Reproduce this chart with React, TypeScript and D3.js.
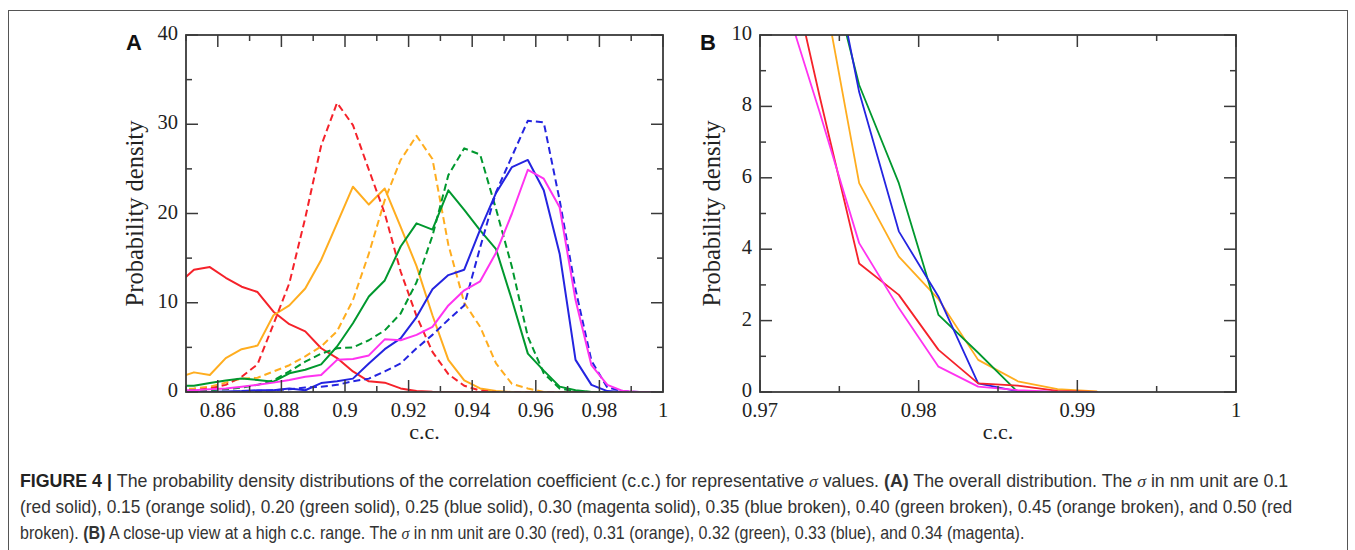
import * as d3 from "d3";
import { useLayoutEffect, useRef, useState } from "react";

// panel A: bin centres (c.c.) and the nine sigma curves
const ccA = [
  0.8475, 0.8525, 0.8575, 0.8625, 0.8675, 0.8725, 0.8775, 0.8825, 0.8875, 0.8925,
  0.8975, 0.9025, 0.9075, 0.9125, 0.9175, 0.9225, 0.9275, 0.9325, 0.9375, 0.9425,
  0.9475, 0.9525, 0.9575, 0.9625, 0.9675, 0.9725, 0.9775, 0.9825, 0.9875, 0.9925,
  0.9975,
];
const sig010 = [12.1, 13.7, 14.0, 12.8, 11.8, 11.2, 9.0, 7.6, 6.8, 4.9, 3.8, 2.3, 1.2, 1.05, 0.4, 0.1, 0.02, 0, 0, 0, 0, 0, 0, 0, 0, 0, 0, 0, 0, 0, 0];
const sig015 = [1.6, 2.2, 1.9, 3.8, 4.8, 5.2, 8.6, 9.7, 11.6, 14.8, 18.9, 23.0, 21.0, 22.8, 18.5, 14.1, 8.6, 3.6, 1.3, 0.4, 0.1, 0, 0, 0, 0, 0, 0, 0, 0, 0, 0];
const sig020 = [0.7, 0.7, 1.0, 1.3, 1.5, 1.35, 1.15, 2.1, 2.5, 3.1, 5.1, 7.7, 10.7, 12.5, 16.3, 18.9, 18.2, 22.6, 20.4, 18.1, 16.0, 10.3, 4.3, 2.4, 0.6, 0.2, 0, 0, 0, 0, 0];
const sig025 = [0, 0, 0, 0.05, 0.1, 0.2, 0.2, 0.4, 0.2, 1.0, 1.2, 1.5, 3.2, 4.8, 6.0, 8.4, 11.5, 13.1, 13.7, 18.2, 22.3, 25.2, 26.0, 22.6, 15.5, 3.6, 0.8, 0.1, 0, 0, 0];
const sig030 = [0.2, 0.2, 0.3, 0.4, 0.6, 0.8, 1.05, 1.35, 1.7, 1.9, 3.6, 3.7, 4.1, 5.9, 5.8, 6.4, 7.3, 9.7, 11.4, 12.4, 15.6, 20.0, 24.9, 23.9, 20.7, 10.3, 3.0, 0.8, 0.1, 0, 0];
const sig035 = [0, 0, 0, 0, 0.05, 0.1, 0.2, 0.3, 0.5, 0.6, 0.8, 1.2, 1.5, 2.3, 3.2, 4.9, 6.4, 8.1, 9.7, 16.2, 22.4, 26.4, 30.4, 30.2, 21.5, 11.5, 3.5, 0.5, 0.1, 0, 0];
const sig040 = [0.1, 0.2, 0.2, 0.3, 0.5, 0.8, 1.3, 2.3, 3.4, 4.3, 4.9, 5.0, 5.8, 6.9, 8.8, 12.3, 17.5, 24.3, 27.3, 26.6, 20.5, 14.0, 6.2, 2.1, 0.4, 0.05, 0, 0, 0, 0, 0];
const sig045 = [0.3, 0.4, 0.6, 1.05, 1.5, 1.6, 2.3, 3.0, 4.0, 5.1, 6.8, 10.3, 15.5, 21.5, 26.0, 28.7, 26.1, 16.5, 10.0, 7.3, 3.2, 0.9, 0.4, 0, 0, 0, 0, 0, 0, 0, 0];
const sig050 = [0.1, 0.2, 0.4, 0.8, 1.7, 3.1, 7.6, 12.2, 19.5, 27.6, 32.4, 29.9, 24.9, 20.0, 13.5, 8.5, 4.5, 2.0, 0.7, 0.15, 0, 0, 0, 0, 0, 0, 0, 0, 0, 0, 0];

// panel B: close-up, finer sigma steps
const ccB = [0.97125, 0.97375, 0.97625, 0.97875, 0.98125, 0.98375, 0.98625, 0.98875, 0.99125];
const sig30 = [13.2, 8.3, 3.6, 2.72, 1.18, 0.24, 0.18, 0.03, 0];
const sig31 = [18.0, 11.9, 5.85, 3.79, 2.6, 0.9, 0.3, 0.08, 0.02];
const sig32 = [17.5, 13.0, 8.6, 5.85, 2.16, 1.1, 0, 0, 0];
const sig33 = [20.0, 14.0, 8.4, 4.5, 2.67, 0.24, 0.02, 0, 0];
const sig34 = [11.4, 7.85, 4.17, 2.35, 0.71, 0.15, 0.05, 0, 0];

const ticksAx = [0.86, 0.88, 0.9, 0.92, 0.94, 0.96, 0.98, 1];
const ticksAxMinor = [0.85, 0.87, 0.89, 0.91, 0.93, 0.95, 0.97, 0.99];
const ticksAy = [0, 10, 20, 30, 40];
const ticksAyMinor = [5, 15, 25, 35];
const ticksBx = [0.97, 0.98, 0.99, 1];
const ticksBxMinor = [0.975, 0.985, 0.995];
const ticksBy = [0, 2, 4, 6, 8, 10];
const ticksByMinor = [1, 3, 5, 7, 9];

const RED = "#f5222a";
const ORANGE = "#ffad1f";
const GREEN = "#00982e";
const BLUE = "#2424e0";
const MAGENTA = "#ff33f0";

const seriesA = [
  { vals: sig010, color: RED, dash: false },
  { vals: sig015, color: ORANGE, dash: false },
  { vals: sig045, color: ORANGE, dash: true },
  { vals: sig050, color: RED, dash: true },
  { vals: sig040, color: GREEN, dash: true },
  { vals: sig020, color: GREEN, dash: false },
  { vals: sig035, color: BLUE, dash: true },
  { vals: sig025, color: BLUE, dash: false },
  { vals: sig030, color: MAGENTA, dash: false },
];
const seriesB = [
  { vals: sig31, color: ORANGE },
  { vals: sig32, color: GREEN },
  { vals: sig33, color: BLUE },
  { vals: sig30, color: RED },
  { vals: sig34, color: MAGENTA },
];

// caption line targets: baseline y, wanted width
const captionLines = [
  { y: 487, w: 1270 },
  { y: 513, w: 1273 },
  { y: 539, w: 1005 },
];

const serif = "'Liberation Serif', 'Times New Roman', serif";
const sans = "'Liberation Sans', Arial, sans-serif";
const AXIS = "#3a3a3a";

type PanelProps = {
  id: string;
  letter: string;
  x0: number;
  x1: number;
  y0: number;
  y1: number;
  xDomain: [number, number];
  yDomain: [number, number];
  xMajor: number[];
  xMinor: number[];
  yMajor: number[];
  yMinor: number[];
  cc: number[];
  series: { vals: number[]; color: string; dash?: boolean }[];
  width: number;
  titleOffset: number;
};

function Panel(p: PanelProps) {
  const x = d3.scaleLinear().domain(p.xDomain).range([p.x0, p.x1]);
  const y = d3.scaleLinear().domain(p.yDomain).range([p.y1, p.y0]);
  const line = d3
    .line<number>()
    .x((d, i) => x(p.cc[i]))
    .y((d) => y(d));
  const big = 12;
  const small = 6;
  return (
    <g>
      <defs>
        <clipPath id={`clip-${p.id}`}>
          <rect x={p.x0} y={p.y0} width={p.x1 - p.x0} height={p.y1 - p.y0} />
        </clipPath>
      </defs>
      <g clipPath={`url(#clip-${p.id})`} fill="none">
        {p.series.map((s, i) => (
          <path
            key={i}
            d={line(s.vals) ?? ""}
            stroke={s.color}
            strokeWidth={p.width}
            strokeDasharray={s.dash ? "7 4" : undefined}
            strokeLinejoin="round"
          />
        ))}
      </g>
      <rect
        x={p.x0}
        y={p.y0}
        width={p.x1 - p.x0}
        height={p.y1 - p.y0}
        fill="none"
        stroke={AXIS}
        strokeWidth={1.8}
      />
      <g stroke={AXIS} strokeWidth={1.5}>
        {p.xMajor.map((t) => (
          <g key={`xm${t}`}>
            <line x1={x(t)} x2={x(t)} y1={p.y1} y2={p.y1 - big} />
            <line x1={x(t)} x2={x(t)} y1={p.y0} y2={p.y0 + big} />
          </g>
        ))}
        {p.xMinor.map((t) => (
          <g key={`xn${t}`}>
            <line x1={x(t)} x2={x(t)} y1={p.y1} y2={p.y1 - small} />
            <line x1={x(t)} x2={x(t)} y1={p.y0} y2={p.y0 + small} />
          </g>
        ))}
        {p.yMajor.map((t) => (
          <g key={`ym${t}`}>
            <line x1={p.x0} x2={p.x0 + big} y1={y(t)} y2={y(t)} />
            <line x1={p.x1} x2={p.x1 - big} y1={y(t)} y2={y(t)} />
          </g>
        ))}
        {p.yMinor.map((t) => (
          <g key={`yn${t}`}>
            <line x1={p.x0} x2={p.x0 + small} y1={y(t)} y2={y(t)} />
            <line x1={p.x1} x2={p.x1 - small} y1={y(t)} y2={y(t)} />
          </g>
        ))}
      </g>
      <g fontFamily={serif} fontSize={20.5} fill="#222">
        {p.xMajor.map((t) => (
          <text key={`xl${t}`} x={x(t)} y={p.y1 + 25} textAnchor="middle">
            {String(t)}
          </text>
        ))}
        {p.yMajor.map((t) => (
          <text key={`yl${t}`} x={p.x0 - 8} y={y(t) + 5} textAnchor="end">
            {t}
          </text>
        ))}
        <text x={(p.x0 + p.x1) / 2} y={p.y1 + 47} textAnchor="middle" fontSize={22}>
          c.c.
        </text>
        <text
          transform={`translate(${p.x0 - p.titleOffset},${(p.y0 + p.y1) / 2}) rotate(-90)`}
          textAnchor="middle"
          fontSize={24.5}
        >
          Probability density
        </text>
      </g>
      <text
        x={p.x0 - 60}
        y={p.y0 + 15}
        fontFamily={sans}
        fontWeight="bold"
        fontSize={22}
        fill="#111"
      >
        {p.letter}
      </text>
    </g>
  );
}

function Caption() {
  const refs = useRef<(SVGTextElement | null)[]>([]);
  const [scales, setScales] = useState([1, 1, 1]);
  useLayoutEffect(() => {
    setScales(
      captionLines.map((c, i) => {
        const el = refs.current[i];
        const len = el ? el.getComputedTextLength() : 0;
        return len > 0 ? c.w / len : 1;
      }),
    );
  }, []);
  const sigma = (
    <tspan fontStyle="italic" fontFamily={serif}>
      σ
    </tspan>
  );
  const texts = [
    <>
      <tspan fontWeight="bold" fill="#222">FIGURE 4 | </tspan>
      The probability density distributions of the correlation coefficient (c.c.) for representative {sigma} values.{" "}
      <tspan fontWeight="bold">(A)</tspan> The overall distribution. The {sigma} in nm unit are 0.1
    </>,
    <>
      (red solid), 0.15 (orange solid), 0.20 (green solid), 0.25 (blue solid), 0.30 (magenta solid), 0.35 (blue
      broken), 0.40 (green broken), 0.45 (orange broken), and 0.50 (red
    </>,
    <>
      broken). <tspan fontWeight="bold">(B)</tspan> A close-up view at a high c.c. range. The {sigma} in nm unit are
      0.30 (red), 0.31 (orange), 0.32 (green), 0.33 (blue), and 0.34 (magenta).
    </>,
  ];
  return (
    <g fontFamily={sans} fontSize={17.5} fill="#333">
      {captionLines.map((c, i) => (
        <text
          key={i}
          ref={(el) => {
            refs.current[i] = el;
          }}
          transform={`translate(20,${c.y}) scale(${scales[i]},1)`}
        >
          {texts[i]}
        </text>
      ))}
    </g>
  );
}

export default function App() {
  return (
    <svg
      width={1355}
      height={550}
      style={{ position: "absolute", left: 0, top: 0, background: "#fff" }}
    >
      <rect x={8.5} y={10.5} width={1339} height={545} fill="none" stroke="#555" strokeWidth={1} />
      <Panel
        id="a"
        letter="A"
        x0={186}
        x1={663}
        y0={35}
        y1={392}
        xDomain={[0.85, 1]}
        yDomain={[0, 40]}
        xMajor={ticksAx}
        xMinor={ticksAxMinor}
        yMajor={ticksAy}
        yMinor={ticksAyMinor}
        cc={ccA}
        series={seriesA}
        width={2}
        titleOffset={43}
      />
      <Panel
        id="b"
        letter="B"
        x0={760}
        x1={1236}
        y0={35}
        y1={392}
        xDomain={[0.97, 1]}
        yDomain={[0, 10]}
        xMajor={ticksBx}
        xMinor={ticksBxMinor}
        yMajor={ticksBy}
        yMinor={ticksByMinor}
        cc={ccB}
        series={seriesB}
        width={1.8}
        titleOffset={40}
      />
      <Caption />
    </svg>
  );
}
